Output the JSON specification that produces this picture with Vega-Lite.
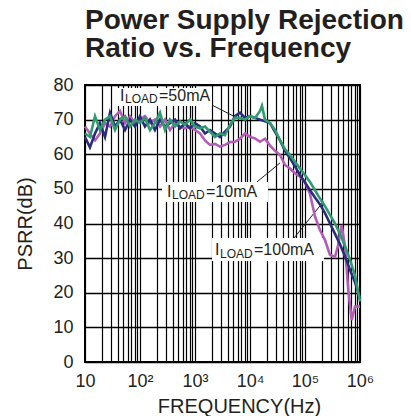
{
  "$schema": "https://vega.github.io/schema/vega-lite/v6.json",
  "width": 275,
  "height": 277,
  "autosize": {"type": "none"},
  "padding": {"left": 85, "top": 85, "right": 51, "bottom": 54},
  "background": "white",
  "title": {
    "text": ["Power Supply Rejection", "Ratio vs. Frequency"],
    "anchor": "start",
    "frame": "group",
    "font": "Liberation Sans",
    "fontSize": 28,
    "fontWeight": "bold",
    "color": "#231f20",
    "lineHeight": 28,
    "offset": 13
  },
  "config": {
    "view": {"stroke": "#000000", "strokeWidth": 2},
    "axis": {
      "labelFont": "Liberation Sans",
      "titleFont": "Liberation Sans",
      "labelColor": "#231f20",
      "titleColor": "#231f20",
      "labelFontSize": 18,
      "titleFontSize": 20,
      "titleFontWeight": "normal",
      "grid": true,
      "gridColor": "#000000",
      "gridOpacity": 1,
      "ticks": false,
      "domain": false,
      "labelOverlap": false,
      "labelFlush": false
    }
  },
  "datasets": {
    "curves": [
      {"s": "m", "f": 10, "v": 68}, {"s": "m", "f": 12.3, "v": 66}, {"s": "m", "f": 15.2, "v": 64}, {"s": "m", "f": 18.7, "v": 66},
      {"s": "m", "f": 23.1, "v": 69}, {"s": "m", "f": 28.5, "v": 68}, {"s": "m", "f": 35.1, "v": 71}, {"s": "m", "f": 43.3, "v": 72.5},
      {"s": "m", "f": 53.4, "v": 69}, {"s": "m", "f": 65.8, "v": 71}, {"s": "m", "f": 81.1, "v": 69}, {"s": "m", "f": 100, "v": 70},
      {"s": "m", "f": 123, "v": 71}, {"s": "m", "f": 152, "v": 69}, {"s": "m", "f": 187, "v": 70}, {"s": "m", "f": 231, "v": 68},
      {"s": "m", "f": 285, "v": 70}, {"s": "m", "f": 351, "v": 67}, {"s": "m", "f": 433, "v": 69}, {"s": "m", "f": 534, "v": 68},
      {"s": "m", "f": 658, "v": 67.5}, {"s": "m", "f": 811, "v": 68}, {"s": "m", "f": 1000, "v": 67}, {"s": "m", "f": 1233, "v": 66},
      {"s": "m", "f": 1520, "v": 64}, {"s": "m", "f": 1874, "v": 62.7}, {"s": "m", "f": 2310, "v": 63}, {"s": "m", "f": 2848, "v": 62.2},
      {"s": "m", "f": 3511, "v": 62.7}, {"s": "m", "f": 4329, "v": 63.5}, {"s": "m", "f": 5337, "v": 63.6}, {"s": "m", "f": 6579, "v": 64.5},
      {"s": "m", "f": 8111, "v": 66}, {"s": "m", "f": 10000, "v": 65}, {"s": "m", "f": 12330, "v": 64.6}, {"s": "m", "f": 15200, "v": 63.6},
      {"s": "m", "f": 18740, "v": 64.5}, {"s": "m", "f": 23100, "v": 62.5}, {"s": "m", "f": 28480, "v": 61}, {"s": "m", "f": 35110, "v": 59.8},
      {"s": "m", "f": 43290, "v": 56.9}, {"s": "m", "f": 53370, "v": 55.9}, {"s": "m", "f": 65790, "v": 54.5}, {"s": "m", "f": 81110, "v": 53.5},
      {"s": "m", "f": 100000, "v": 52}, {"s": "m", "f": 123300, "v": 48.5}, {"s": "m", "f": 152000, "v": 42}, {"s": "m", "f": 187400, "v": 38.1},
      {"s": "m", "f": 231000, "v": 35.2}, {"s": "m", "f": 284800, "v": 30.9}, {"s": "m", "f": 351100, "v": 30.4}, {"s": "m", "f": 395000, "v": 33.3},
      {"s": "m", "f": 464000, "v": 39.6}, {"s": "m", "f": 533700, "v": 33.3}, {"s": "m", "f": 612000, "v": 20.8}, {"s": "m", "f": 706000, "v": 12.1},
      {"s": "m", "f": 811100, "v": 16}, {"s": "m", "f": 1000000, "v": 16},

      {"s": "n", "f": 10, "v": 65}, {"s": "n", "f": 12.3, "v": 62}, {"s": "n", "f": 15.2, "v": 66}, {"s": "n", "f": 18.7, "v": 69},
      {"s": "n", "f": 23.1, "v": 65}, {"s": "n", "f": 28.5, "v": 72}, {"s": "n", "f": 35.1, "v": 68}, {"s": "n", "f": 43.3, "v": 70},
      {"s": "n", "f": 53.4, "v": 67}, {"s": "n", "f": 65.8, "v": 70}, {"s": "n", "f": 81.1, "v": 68}, {"s": "n", "f": 100, "v": 71},
      {"s": "n", "f": 123, "v": 68}, {"s": "n", "f": 152, "v": 70}, {"s": "n", "f": 187, "v": 67}, {"s": "n", "f": 231, "v": 70},
      {"s": "n", "f": 285, "v": 68}, {"s": "n", "f": 351, "v": 69}, {"s": "n", "f": 433, "v": 70}, {"s": "n", "f": 534, "v": 67.5},
      {"s": "n", "f": 658, "v": 69}, {"s": "n", "f": 811, "v": 67.5}, {"s": "n", "f": 1000, "v": 69}, {"s": "n", "f": 1233, "v": 68},
      {"s": "n", "f": 1520, "v": 66}, {"s": "n", "f": 1874, "v": 67}, {"s": "n", "f": 2310, "v": 66}, {"s": "n", "f": 2848, "v": 65},
      {"s": "n", "f": 3511, "v": 66.5}, {"s": "n", "f": 4329, "v": 68}, {"s": "n", "f": 5337, "v": 71}, {"s": "n", "f": 6579, "v": 72},
      {"s": "n", "f": 8111, "v": 70.5}, {"s": "n", "f": 10000, "v": 71}, {"s": "n", "f": 12330, "v": 70.5}, {"s": "n", "f": 15200, "v": 70},
      {"s": "n", "f": 18740, "v": 69.5}, {"s": "n", "f": 23100, "v": 69}, {"s": "n", "f": 28480, "v": 66.5}, {"s": "n", "f": 35110, "v": 64},
      {"s": "n", "f": 43290, "v": 61}, {"s": "n", "f": 53370, "v": 58.8}, {"s": "n", "f": 65790, "v": 56.5}, {"s": "n", "f": 81110, "v": 54},
      {"s": "n", "f": 100000, "v": 51.8}, {"s": "n", "f": 123300, "v": 49.6}, {"s": "n", "f": 152000, "v": 47.5}, {"s": "n", "f": 187400, "v": 45.5},
      {"s": "n", "f": 231000, "v": 43}, {"s": "n", "f": 284800, "v": 40}, {"s": "n", "f": 351100, "v": 37}, {"s": "n", "f": 432900, "v": 34},
      {"s": "n", "f": 533700, "v": 30.5}, {"s": "n", "f": 657900, "v": 26.6}, {"s": "n", "f": 811100, "v": 23}, {"s": "n", "f": 1000000, "v": 18.5},

      {"s": "g", "f": 10, "v": 66}, {"s": "g", "f": 12.3, "v": 65}, {"s": "g", "f": 15.2, "v": 71}, {"s": "g", "f": 18.7, "v": 67},
      {"s": "g", "f": 23.1, "v": 70}, {"s": "g", "f": 28.5, "v": 71}, {"s": "g", "f": 35.1, "v": 67}, {"s": "g", "f": 43.3, "v": 70},
      {"s": "g", "f": 53.4, "v": 71}, {"s": "g", "f": 65.8, "v": 68}, {"s": "g", "f": 81.1, "v": 70}, {"s": "g", "f": 100, "v": 69},
      {"s": "g", "f": 123, "v": 70.5}, {"s": "g", "f": 152, "v": 67}, {"s": "g", "f": 187, "v": 69}, {"s": "g", "f": 231, "v": 72},
      {"s": "g", "f": 285, "v": 67}, {"s": "g", "f": 351, "v": 70}, {"s": "g", "f": 433, "v": 68}, {"s": "g", "f": 534, "v": 69.5},
      {"s": "g", "f": 658, "v": 68.5}, {"s": "g", "f": 811, "v": 70}, {"s": "g", "f": 1000, "v": 68}, {"s": "g", "f": 1233, "v": 67.5},
      {"s": "g", "f": 1520, "v": 68}, {"s": "g", "f": 1874, "v": 66.5}, {"s": "g", "f": 2310, "v": 65}, {"s": "g", "f": 2848, "v": 66},
      {"s": "g", "f": 3511, "v": 65.5}, {"s": "g", "f": 4329, "v": 68.5}, {"s": "g", "f": 5337, "v": 70.5}, {"s": "g", "f": 6579, "v": 70.5},
      {"s": "g", "f": 8111, "v": 70}, {"s": "g", "f": 10000, "v": 71}, {"s": "g", "f": 12330, "v": 70.5}, {"s": "g", "f": 15200, "v": 72.5},
      {"s": "g", "f": 16500, "v": 74}, {"s": "g", "f": 18740, "v": 70}, {"s": "g", "f": 23100, "v": 69}, {"s": "g", "f": 28480, "v": 67},
      {"s": "g", "f": 35110, "v": 64.1}, {"s": "g", "f": 43290, "v": 61.5}, {"s": "g", "f": 53370, "v": 59.8}, {"s": "g", "f": 65790, "v": 57.8},
      {"s": "g", "f": 81110, "v": 55.9}, {"s": "g", "f": 100000, "v": 54}, {"s": "g", "f": 123300, "v": 52}, {"s": "g", "f": 152000, "v": 49.6},
      {"s": "g", "f": 187400, "v": 47.2}, {"s": "g", "f": 231000, "v": 45}, {"s": "g", "f": 284800, "v": 42.5}, {"s": "g", "f": 351100, "v": 40},
      {"s": "g", "f": 432900, "v": 37}, {"s": "g", "f": 533700, "v": 33.5}, {"s": "g", "f": 657900, "v": 29.5}, {"s": "g", "f": 811100, "v": 25},
      {"s": "g", "f": 1000000, "v": 17.5}
    ],
    "labels": [
      {"f": 43.3, "v": 75.5, "sub": "LOAD", "rest": "=50mA", "bf1": 35, "bf2": 2037, "bv1": 73.9, "bv2": 79.1, "lf1": 2040, "lv1": 74.2, "lf2": 5337, "lv2": 70.8},
      {"f": 310, "v": 47.7, "sub": "LOAD", "rest": "=10mA", "bf1": 251, "bf2": 21230, "bv1": 46.2, "bv2": 52, "lf1": 13400, "lv1": 52, "lf2": 35100, "lv2": 57.5},
      {"f": 2310, "v": 30.9, "sub": "LOAD", "rest": "=100mA", "bf1": 2037, "bf2": 221000, "bv1": 29.2, "bv2": 35.8, "lf1": 63100, "lv1": 35.8, "lf2": 215300, "lv2": 46.3}
    ]
  },
  "layer": [
    {
      "data": {"name": "labels"},
      "mark": {"type": "rect", "fill": "white", "stroke": null},
      "encoding": {
        "x": {"field": "bf1", "type": "quantitative", "scale": {"type": "log", "domain": [10, 1000000]},
          "axis": {
            "title": "FREQUENCY(Hz)",
            "values": [10,20,30,40,50,60,70,80,90,100,200,300,400,500,600,700,800,900,1000,2000,3000,4000,5000,6000,7000,8000,9000,10000,20000,30000,40000,50000,60000,70000,80000,90000,100000,200000,300000,400000,500000,600000,700000,800000,900000,1000000],
            "tickCount": 100,
            "labelExpr": "datum.value == 10 ? '10' : datum.value == 100 ? '10²' : datum.value == 1000 ? '10³' : datum.value == 10000 ? '10⁴' : datum.value == 100000 ? '10⁵' : datum.value == 1000000 ? '10⁶' : ''",
            "labelOverlap": false,
            "labelFlush": false,
            "labelPadding": 10,
            "gridWidth": 1.2,
            "titleX": 154,
            "titleY": 50,
            "titleAlign": "center",
            "titleBaseline": "alphabetic"
          }
        },
        "x2": {"field": "bf2"},
        "y": {"field": "bv1", "type": "quantitative", "scale": {"domain": [0, 80], "nice": false},
          "axis": {
            "title": "PSRR(dB)",
            "values": [0, 10, 20, 30, 40, 50, 60, 70, 80],
            "tickCount": 20,
            "labelOverlap": false,
            "labelFlush": false,
            "labelPadding": 12,
            "gridWidth": 1.4,
            "titleX": -54,
            "titleY": 138.5,
            "titleAngle": -90,
            "titleAlign": "center",
            "titleBaseline": "alphabetic"
          }
        },
        "y2": {"field": "bv2"}
      }
    },
    {
      "data": {"name": "labels"},
      "mark": {"type": "rule", "color": "#231f20", "strokeWidth": 1},
      "encoding": {
        "x": {"field": "lf1", "type": "quantitative"},
        "x2": {"field": "lf2"},
        "y": {"field": "lv1", "type": "quantitative"},
        "y2": {"field": "lv2"}
      }
    },
    {
      "data": {"name": "curves"},
      "mark": {"type": "line", "strokeWidth": 2.6, "interpolate": "linear"},
      "encoding": {
        "x": {"field": "f", "type": "quantitative"},
        "y": {"field": "v", "type": "quantitative"},
        "color": {"field": "s", "type": "nominal", "legend": null,
          "scale": {"domain": ["m", "n", "g"], "range": ["#b45db6", "#2b2d7c", "#2f9c6f"]}}
      }
    },
    {
      "data": {"name": "labels"},
      "mark": {"type": "text", "text": "I", "align": "left", "baseline": "alphabetic", "font": "Liberation Sans", "fontSize": 16, "color": "#231f20"},
      "encoding": {
        "x": {"field": "f", "type": "quantitative"},
        "y": {"field": "v", "type": "quantitative"}
      }
    },
    {
      "data": {"name": "labels"},
      "mark": {"type": "text", "align": "left", "baseline": "alphabetic", "font": "Liberation Sans", "fontSize": 12, "dx": 5, "dy": 2.5, "color": "#231f20"},
      "encoding": {
        "x": {"field": "f", "type": "quantitative"},
        "y": {"field": "v", "type": "quantitative"},
        "text": {"field": "sub"}
      }
    },
    {
      "data": {"name": "labels"},
      "mark": {"type": "text", "align": "left", "baseline": "alphabetic", "font": "Liberation Sans", "fontSize": 16, "dx": 39, "color": "#231f20"},
      "encoding": {
        "x": {"field": "f", "type": "quantitative"},
        "y": {"field": "v", "type": "quantitative"},
        "text": {"field": "rest"}
      }
    }
  ]
}
